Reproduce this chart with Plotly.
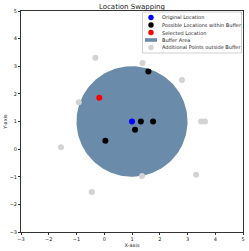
import plotly.graph_objects as go
import numpy as np

orig_x = [1.0]
orig_y = [1.0]
poss_x = [1.32, 1.76, 1.11, 0.04, 1.59]
poss_y = [1.0, 1.0, 0.70, 0.30, 2.81]
sel_x = [-0.18]
sel_y = [1.86]
add_x = [-0.32, 1.38, 2.80, -0.92, 3.49, 3.63, -1.56, 1.36, 3.31, -0.45]
add_y = [3.31, 3.12, 2.50, 1.70, 1.0, 1.0, 0.07, -0.97, -0.93, -1.55]
buffer_center = (1.0, 1.0)
buffer_radius = 2.0
ticks = [-3, -2, -1, 0, 1, 2, 3, 4, 5]
legend_labels = ["Original Location", "Possible Locations within Buffer",
                 "Selected Location", "Buffer Area", "Additional Points outside Buffer"]

BUF = "#6a8ba9"
GRAY = "#d3d3d3"
legend_colors = ["blue", "black", "red", BUF, GRAY]
legend_kind = ["dot", "dot", "dot", "patch", "dot"]

t = np.linspace(0, 2 * np.pi, 200)
cx = buffer_center[0] + buffer_radius * np.cos(t)
cy = buffer_center[1] + buffer_radius * np.sin(t)

font = "DejaVu Sans"
W, H = 249, 251
L, R, T, B = 21, 6, 11, 19
PW, PH = W - L - R, H - T - B

def px(x):
    return (x - L) / PW

def py(y):
    return (H - B - y) / PH

fig = go.Figure()
fig.add_trace(go.Scatter(x=cx, y=cy, mode="lines", fill="toself",
                         fillcolor=BUF, line=dict(width=0, color=BUF),
                         name="Buffer Area", hoverinfo="skip"))
fig.add_trace(go.Scatter(x=add_x, y=add_y, mode="markers",
                         marker=dict(color=GRAY, size=6),
                         name="Additional Points outside Buffer"))
fig.add_trace(go.Scatter(x=poss_x, y=poss_y, mode="markers",
                         marker=dict(color="black", size=6),
                         name="Possible Locations within Buffer"))
fig.add_trace(go.Scatter(x=orig_x, y=orig_y, mode="markers",
                         marker=dict(color="blue", size=6),
                         name="Original Location"))
fig.add_trace(go.Scatter(x=sel_x, y=sel_y, mode="markers",
                         marker=dict(color="red", size=6),
                         name="Selected Location"))

# custom compact legend (matplotlib style)
shapes = [dict(type="rect", xref="paper", yref="paper",
               x0=px(142.5), x1=px(241.5), y0=py(53), y1=py(12),
               line=dict(color="#d0d0d0", width=1), fillcolor="rgba(255,255,255,0.85)",
               layer="above")]
annotations = []
rows = [17.5, 25.0, 32.5, 40.0, 47.5]
mx = 151.0
r = 2.7
for lab, col, kind, ry in zip(legend_labels, legend_colors, legend_kind, rows):
    if kind == "dot":
        shapes.append(dict(type="circle", xref="paper", yref="paper",
                           x0=px(mx - r), x1=px(mx + r), y0=py(ry + r), y1=py(ry - r),
                           fillcolor=col, line=dict(width=0), layer="above"))
    else:
        shapes.append(dict(type="rect", xref="paper", yref="paper",
                           x0=px(145), x1=px(157), y0=py(ry + 1.8), y1=py(ry - 1.8),
                           fillcolor=col, line=dict(width=0), layer="above"))
    annotations.append(dict(text=lab, xref="paper", yref="paper", x=px(160), y=py(ry),
                            xanchor="left", yanchor="middle", showarrow=False,
                            font=dict(size=5, family=font, color="#222")))

axis = dict(range=[-3, 5], tickvals=ticks, ticks="outside", ticklen=2,
            tickcolor="#333", showline=True, linecolor="#333", linewidth=1,
            mirror=True, showgrid=False, zeroline=False, automargin=False,
            tickfont=dict(size=5, color="#222", family=font))
fig.update_layout(
    width=W, height=H,
    margin=dict(l=L, r=R, t=T, b=B),
    plot_bgcolor="white", paper_bgcolor="white",
    title=dict(text="Location Swapping", x=0.53, xanchor="center", y=0.975,
               yanchor="middle", font=dict(size=7, color="#222", family=font),
               automargin=False),
    xaxis=dict(axis, title=dict(text="X-axis", font=dict(size=5, family=font, color="#222"), standoff=1)),
    yaxis=dict(axis, title=dict(text="Y-axis", font=dict(size=5, family=font, color="#222"), standoff=1)),
    showlegend=False,
    shapes=shapes,
    annotations=annotations,
)
fig.write_html("out.html", config={"displayModeBar": False},
               post_script="document.body.style.margin='0';")
